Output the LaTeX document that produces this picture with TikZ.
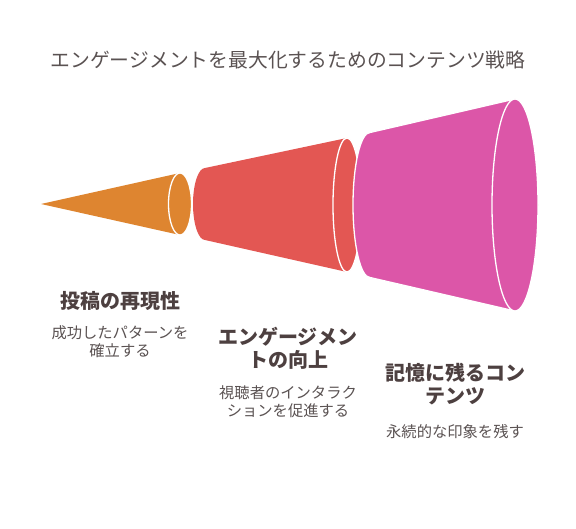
\documentclass[tikz,border=0pt]{standalone}
\usepackage{fontspec}
\setmainfont{Noto Sans CJK JP}
\definecolor{conea}{HTML}{DE8530}
\definecolor{coneb}{HTML}{E35753}
\definecolor{conec}{HTML}{DC56A8}
\definecolor{headtext}{HTML}{4D4040}
\definecolor{bodytext}{HTML}{5A5252}
\begin{document}
\begin{tikzpicture}[x=1pt,y=1pt,
    rim/.style={draw=white,line width=1.3pt},
    head/.style={text=headtext,align=center,font=\fontsize{20}{23}\selectfont\bfseries},
    note/.style={text=bodytext,align=center,font=\fontsize{15.3}{18}\selectfont}]
  \useasboundingbox (0,0) rectangle (576,528);
  \node[text=bodytext,font=\fontsize{19.8}{24}\selectfont] (title) at (288,468) {エンゲージメントを最大化するためのコンテンツ戦略};
  \begin{scope}
    \fill[conea] (41,324) -- (180,355) -- (180,293) -- cycle;
    \draw[rim,fill=conea] (180,324) ellipse [x radius=11.5,y radius=31];
  \end{scope}
  \begin{scope}
    \fill[coneb] (205,360) arc [start angle=90,end angle=270,x radius=12,y radius=36] -- (347,256) -- (347,390) -- cycle;
    \draw[rim,fill=coneb] (347,323) ellipse [x radius=14,y radius=67];
  \end{scope}
  \begin{scope}
    \draw[rim,fill=conec] (370,395.5) arc [start angle=90,end angle=270,x radius=17,y radius=72.5] -- (515,217) -- (515,429) -- cycle;
    \draw[rim,fill=conec] (515,323) ellipse [x radius=23,y radius=106];
  \end{scope}
  \draw
    (120,227) node[head] (h1) {投稿の再現性}
    (120,186) node[note] (n1) {成功したパターンを\\確立する}
    (288,179.5) node[head] (h2) {エンゲージメン\\トの向上}
    (288,126) node[note] (n2) {視聴者のインタラク\\ションを促進する}
    (455,144) node[head] (h3) {記憶に残るコン\\テンツ}
    (455,96) node[note] (n3) {永続的な印象を残す};
\end{tikzpicture}
\end{document}
